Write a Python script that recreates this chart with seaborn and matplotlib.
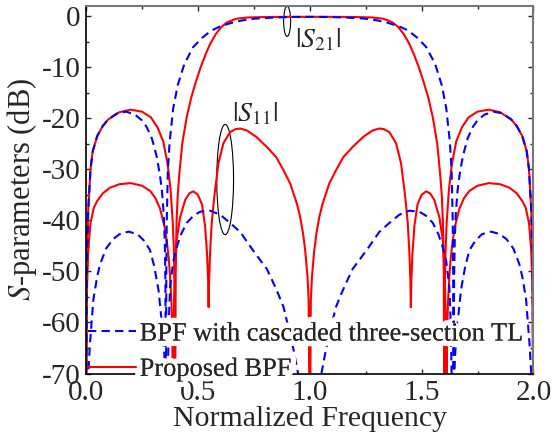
import matplotlib
matplotlib.use("Agg")
import matplotlib.pyplot as plt
import matplotlib.patheffects as pe
from matplotlib.patches import Ellipse
from matplotlib.ticker import MultipleLocator
from matplotlib import font_manager
import seaborn as sns

# ---------------- data ----------------
# Proposed BPF, |S21| (red solid)
freq_prop_s21 = [0.000, 0.004, 0.010, 0.020, 0.030, 0.050, 0.075, 0.100, 0.150, 0.200,
                 0.250, 0.290, 0.320, 0.345, 0.365, 0.378, 0.388, 0.393, 0.396, 0.398,
                 0.401, 0.405, 0.410, 0.417, 0.430, 0.450, 0.470, 0.490, 0.510, 0.535,
                 0.555, 0.580, 0.605, 0.630, 0.670, 0.720, 0.800, 0.900, 1.000,
                 1.100, 1.200, 1.280, 1.330, 1.370, 1.395, 1.420, 1.445, 1.465, 1.490,
                 1.510, 1.530, 1.550, 1.570, 1.583, 1.590, 1.595, 1.599, 1.602, 1.604,
                 1.607, 1.612, 1.622, 1.635, 1.655, 1.680, 1.710, 1.750, 1.800, 1.850,
                 1.900, 1.925, 1.950, 1.970, 1.980, 1.990, 1.996, 2.000]
db_prop_s21 = [-85, -48, -38, -30, -26.5, -23.5, -21.5, -20.2, -18.8, -18.3,
               -18.7, -19.8, -21.8, -24.5, -29, -34, -40.5, -46, -53, -85,
               -50, -40, -35, -31, -25, -19.8, -16, -13, -10.3, -7.4,
               -5.4, -3.5, -2.1, -1.2, -0.5, -0.25, -0.15, -0.12, -0.12,
               -0.12, -0.15, -0.25, -0.5, -1.2, -2.1, -3.5, -5.4, -7.4, -10.3,
               -13, -16, -19.8, -25, -31, -35, -40, -50, -85, -53,
               -46, -40.5, -34, -29, -24.5, -21.8, -19.8, -18.7, -18.3, -18.8,
               -20.2, -21.5, -23.5, -26.5, -30, -38, -48, -85]

# Proposed BPF, |S11| (red solid)
freq_prop_s11 = [0.000, 0.004, 0.010, 0.020, 0.035, 0.050, 0.075, 0.107, 0.150, 0.200,
                 0.250, 0.286, 0.310, 0.331, 0.350, 0.361, 0.370, 0.376, 0.382, 0.386,
                 0.389, 0.392, 0.397, 0.405, 0.420, 0.443, 0.462, 0.480, 0.500, 0.518,
                 0.532, 0.541, 0.546, 0.548, 0.550, 0.555, 0.562, 0.570, 0.577, 0.592,
                 0.614, 0.644, 0.670, 0.690, 0.720, 0.760, 0.808, 0.850, 0.883, 0.913,
                 0.943, 0.957, 0.970, 0.980, 0.990, 0.995, 1.000,
                 1.005, 1.010, 1.020, 1.030, 1.043, 1.057, 1.087, 1.117, 1.150, 1.192,
                 1.240, 1.280, 1.310, 1.330, 1.356, 1.386, 1.408, 1.423, 1.430, 1.438,
                 1.445, 1.450, 1.452, 1.454, 1.459, 1.468, 1.482, 1.500, 1.520, 1.538,
                 1.557, 1.580, 1.595, 1.603, 1.608, 1.611, 1.614, 1.618, 1.624, 1.630,
                 1.639, 1.650, 1.669, 1.690, 1.714, 1.750, 1.800, 1.850, 1.893, 1.925,
                 1.950, 1.965, 1.980, 1.990, 1.996, 2.000]
db_prop_s11 = [-85, -54, -46, -40.5, -37.5, -36.2, -34.7, -33.6, -32.9, -32.7,
               -33.2, -34.2, -35.6, -37.7, -41, -44, -47.5, -51, -56, -62,
               -85, -60, -50, -44, -39.5, -36, -34.7, -34.3, -35, -36.8,
               -41, -46.5, -52, -57, -52, -46, -40.5, -36.8, -34, -28.8,
               -24.9, -22.7, -22.1, -22.0, -22.4, -23.6, -25.6, -27.6, -30.2, -32.8,
               -36.8, -39.3, -42.5, -46, -51, -55.5, -85,
               -55.5, -51, -46, -42.5, -39.3, -36.8, -32.8, -30.2, -27.6, -25.6,
               -23.6, -22.4, -22.0, -22.1, -22.7, -24.9, -28.8, -34, -36.8, -40.5,
               -46, -52, -57, -52, -46.5, -41, -36.8, -35, -34.3, -34.7,
               -36, -39.5, -44, -50, -60, -85, -62, -56, -51, -47.5,
               -44, -41, -37.7, -35.6, -34.2, -33.2, -32.7, -32.9, -33.6, -34.7,
               -36.2, -37.5, -40.5, -46, -54, -85]

# BPF with cascaded three-section TL, |S21| (blue dashed)
freq_tl_s21 = [0.000, 0.004, 0.010, 0.020, 0.030, 0.050, 0.075, 0.100, 0.140, 0.180,
               0.220, 0.250, 0.270, 0.295, 0.316, 0.330, 0.339, 0.347, 0.352, 0.355,
               0.357, 0.359, 0.361, 0.366, 0.374, 0.390, 0.410, 0.440, 0.480, 0.520,
               0.560, 0.600, 0.650, 0.700, 0.760, 0.850, 0.920, 1.000,
               1.080, 1.150, 1.240, 1.300, 1.350, 1.400, 1.440, 1.480, 1.520, 1.560,
               1.590, 1.610, 1.626, 1.634, 1.639, 1.641, 1.643, 1.645, 1.648, 1.653,
               1.661, 1.670, 1.684, 1.705, 1.730, 1.750, 1.780, 1.820, 1.860, 1.900,
               1.925, 1.950, 1.970, 1.980, 1.990, 1.996, 2.000]
db_tl_s21 = [-85, -48, -38, -30, -26.5, -23.5, -21.5, -20.2, -19.0, -18.7,
             -19.3, -20.4, -21.6, -24, -27.5, -31, -34, -38.5, -44, -52,
             -85, -50, -40, -30, -24.5, -18, -13.5, -9.3, -6, -4.2,
             -2.8, -2.0, -1.3, -0.8, -0.45, -0.25, -0.15, -0.12,
             -0.15, -0.25, -0.45, -0.8, -1.3, -2.0, -2.8, -4.2, -6, -9.3,
             -13.5, -18, -24.5, -30, -40, -50, -85, -52, -44, -38.5,
             -34, -31, -27.5, -24, -21.6, -20.4, -19.3, -18.7, -19.0, -20.2,
             -21.5, -23.5, -26.5, -30, -38, -48, -85]

# BPF with cascaded three-section TL, |S11| (blue dashed)
freq_tl_s11 = [0.000, 0.010, 0.018, 0.033, 0.050, 0.063, 0.090, 0.120, 0.150, 0.190,
               0.230, 0.260, 0.286, 0.305, 0.324, 0.339, 0.350, 0.357, 0.362, 0.366,
               0.370, 0.376, 0.390, 0.406, 0.425, 0.450, 0.480, 0.510, 0.555, 0.600,
               0.644, 0.690, 0.734, 0.779, 0.808, 0.838, 0.860, 0.883, 0.905, 0.928,
               0.950, 0.975, 1.000,
               1.025, 1.050, 1.072, 1.095, 1.117, 1.140, 1.162, 1.192, 1.221, 1.266,
               1.310, 1.356, 1.400, 1.445, 1.490, 1.520, 1.550, 1.575, 1.594, 1.610,
               1.624, 1.630, 1.634, 1.638, 1.643, 1.650, 1.661, 1.676, 1.695, 1.714,
               1.740, 1.770, 1.810, 1.850, 1.880, 1.910, 1.937, 1.950, 1.967, 1.982,
               1.990, 2.000]
db_tl_s11 = [-90, -70, -64, -55.5, -51, -48.6, -45.5, -43.7, -42.7, -42.2,
             -42.7, -44, -45.8, -49, -53.6, -60, -66, -74, -90, -70,
             -60, -53, -48, -45.2, -42.7, -40.5, -39.1, -38.3, -38.1, -38.9,
             -40.5, -42.3, -45.1, -47.8, -49.5, -52.3, -54.5, -57, -61, -65.4,
             -70.5, -76, -80,
             -76, -70.5, -65.4, -61, -57, -54.5, -52.3, -49.5, -47.8, -45.1,
             -42.3, -40.5, -38.9, -38.1, -38.3, -39.1, -40.5, -42.7, -45.2, -48,
             -53, -60, -70, -90, -74, -66, -60, -53.6, -49, -45.8,
             -44, -42.7, -42.2, -42.7, -43.7, -45.5, -48.6, -51, -55.5, -64,
             -70, -90]

legend_labels = ["BPF with cascaded three-section TL", "Proposed BPF"]
x_ticks = [0.0, 0.5, 1.0, 1.5, 2.0]
x_tick_labels = ["0.0", "0.5", "1.0", "1.5", "2.0"]
y_ticks = [-70, -60, -50, -40, -30, -20, -10, 0]
y_tick_labels = ["-70", "-60", "-50", "-40", "-30", "-20", "-10", "0"]

# ---------------- style ----------------
sns.set_style("ticks")
serif_name = 'Liberation Serif'
for f in font_manager.fontManager.ttflist:
    if 'Liberation Serif' in f.name:
        serif_name = f.name
        break
plt.rcParams['font.family'] = 'serif'
plt.rcParams['font.serif'] = [serif_name, 'DejaVu Serif']
plt.rcParams['mathtext.fontset'] = 'stix'
plt.rcParams['axes.unicode_minus'] = False

RED = "#ff0000"
BLUE = "#0000ff"

fig = plt.figure(figsize=(5.53, 4.36), dpi=100)
ax = fig.add_axes([0.1555, 0.1433, 0.8092, 0.8429])

sns.lineplot(x=freq_prop_s21, y=db_prop_s21, ax=ax, color=RED, lw=1.5,
             estimator=None, sort=False, legend=False)
red_line = ax.lines[-1]
sns.lineplot(x=freq_prop_s11, y=db_prop_s11, ax=ax, color=RED, lw=1.5,
             estimator=None, sort=False, legend=False)
sns.lineplot(x=freq_tl_s21, y=db_tl_s21, ax=ax, color=BLUE, lw=1.5,
             estimator=None, sort=False, legend=False)
blue_line = ax.lines[-1]
sns.lineplot(x=freq_tl_s11, y=db_tl_s11, ax=ax, color=BLUE, lw=1.5,
             estimator=None, sort=False, legend=False)
for ln in ax.lines[-2:]:
    ln.set_dashes((4, 2.5))

ax.set_xlim(0, 2)
ax.set_ylim(-70, 2)
ax.set_xticks(x_ticks)
ax.set_xticklabels(x_tick_labels)
ax.set_yticks(y_ticks)
ax.set_yticklabels(y_tick_labels)
ax.xaxis.set_minor_locator(MultipleLocator(0.25))
ax.yaxis.set_minor_locator(MultipleLocator(5))
ax.tick_params(which='both', direction='in', top=True, right=True,
               labelsize=21, width=1)
ax.tick_params(which='major', length=3.5)
ax.tick_params(which='minor', length=2.5)
ax.tick_params(axis='x', pad=5)
ax.tick_params(axis='y', pad=4)

for side in ['left', 'bottom']:
    ax.spines[side].set_color('black')
    ax.spines[side].set_linewidth(1.2)
for side in ['top', 'right']:
    ax.spines[side].set_color('#777777')
    ax.spines[side].set_linewidth(1.5)

ax.set_xlabel("Normalized Frequency", fontsize=21.5, labelpad=0)
ax.set_ylabel(r"$S$-parameters (dB)", fontsize=22, labelpad=2)

# annotations
ax.add_patch(Ellipse((0.899, -1.0), 0.031, 5.9, fill=False, edgecolor='black', lw=0.8))
ax.add_patch(Ellipse((0.622, -32.0), 0.075, 21.6, fill=False, edgecolor='black', lw=0.8))
ax.text(0.935, -4.6, r"$|S_{21}|$", fontsize=20, ha='left', va='center')
ax.text(0.652, -19.2, r"$|S_{11}|$", fontsize=20, ha='left', va='center')

leg = ax.legend([blue_line, red_line], legend_labels, loc='lower left',
                bbox_to_anchor=(0.005, -0.02), frameon=False, fontsize=19,
                handlelength=1.8, handletextpad=0.15, labelspacing=0.45,
                borderpad=0, borderaxespad=0)
for t in leg.get_texts():
    t.set_path_effects([pe.withStroke(linewidth=8, foreground='white'), pe.Normal()])

fig.savefig("out.png", dpi=100)
